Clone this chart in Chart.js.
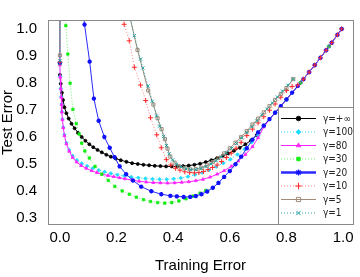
<!DOCTYPE html>
<html>
<head>
<meta charset="utf-8">
<script src="https://cdn.jsdelivr.net/npm/chart.js@4.4.1/dist/chart.umd.min.js"></script>
<style>
  html, body { margin: 0; padding: 0; background: #fff; }
  #wrap { width: 360px; height: 277px; }
</style>
</head>
<body>
<div id="wrap"><canvas id="chart"></canvas></div>
<script>
// Axis ticks
const xTicks = [0.0, 0.2, 0.4, 0.6, 0.8, 1.0];
const yTicks = [0.3, 0.4, 0.5, 0.6, 0.7, 0.8, 0.9, 1.0];

const seriesLabels = ['γ=+∞', 'γ=100', 'γ=80', 'γ=30', 'γ=20', 'γ=10', 'γ=5', 'γ=1'];

// γ=+∞
const infX = [0.000, 0.003, 0.007, 0.011, 0.016, 0.023, 0.031, 0.041, 0.052, 0.064, 0.077, 0.090, 0.104, 0.118, 0.133, 0.148, 0.164, 0.180, 0.197, 0.215, 0.235, 0.255, 0.275, 0.295, 0.315, 0.335, 0.355, 0.375, 0.395, 0.415, 0.435, 0.455, 0.475, 0.495, 0.515, 0.535, 0.555, 0.575, 0.595, 0.615, 0.635, 0.655, 0.675, 0.695, 0.720, 0.760, 0.800, 0.850, 0.900, 0.950, 0.995];
const infY = [0.828, 0.795, 0.762, 0.735, 0.708, 0.686, 0.666, 0.647, 0.630, 0.613, 0.598, 0.584, 0.571, 0.560, 0.550, 0.541, 0.532, 0.525, 0.518, 0.512, 0.506, 0.501, 0.498, 0.495, 0.493, 0.491, 0.490, 0.489, 0.489, 0.489, 0.490, 0.492, 0.495, 0.499, 0.505, 0.512, 0.520, 0.528, 0.537, 0.547, 0.558, 0.571, 0.585, 0.605, 0.640, 0.688, 0.737, 0.799, 0.864, 0.933, 0.998];

// γ=100
const g100X = [0.000, 0.001, 0.003, 0.005, 0.006, 0.007, 0.009, 0.012, 0.016, 0.023, 0.033, 0.045, 0.060, 0.077, 0.096, 0.116, 0.137, 0.158, 0.180, 0.203, 0.227, 0.252, 0.277, 0.302, 0.327, 0.352, 0.377, 0.402, 0.427, 0.452, 0.477, 0.502, 0.527, 0.552, 0.577, 0.602, 0.627, 0.652, 0.677, 0.700, 0.720, 0.760, 0.800, 0.850, 0.900, 0.950, 0.995];
const g100Y = [0.870, 0.822, 0.778, 0.747, 0.720, 0.692, 0.664, 0.634, 0.606, 0.576, 0.550, 0.528, 0.512, 0.500, 0.490, 0.482, 0.475, 0.469, 0.463, 0.458, 0.454, 0.450, 0.447, 0.444, 0.442, 0.441, 0.441, 0.443, 0.446, 0.451, 0.458, 0.466, 0.476, 0.488, 0.501, 0.515, 0.533, 0.553, 0.578, 0.603, 0.638, 0.688, 0.737, 0.799, 0.864, 0.933, 0.998];

// γ=80
const g80X = [0.000, 0.001, 0.003, 0.005, 0.006, 0.007, 0.009, 0.012, 0.016, 0.023, 0.033, 0.045, 0.059, 0.075, 0.093, 0.112, 0.131, 0.150, 0.170, 0.190, 0.210, 0.230, 0.255, 0.280, 0.305, 0.330, 0.355, 0.380, 0.405, 0.430, 0.455, 0.480, 0.505, 0.530, 0.555, 0.580, 0.605, 0.630, 0.655, 0.680, 0.700, 0.720, 0.760, 0.800, 0.850, 0.900, 0.950, 0.995];
const g80Y = [0.865, 0.820, 0.776, 0.745, 0.718, 0.690, 0.662, 0.632, 0.603, 0.572, 0.545, 0.522, 0.505, 0.492, 0.482, 0.473, 0.466, 0.460, 0.455, 0.451, 0.447, 0.443, 0.438, 0.434, 0.431, 0.429, 0.428, 0.427, 0.428, 0.430, 0.432, 0.436, 0.441, 0.449, 0.460, 0.473, 0.489, 0.509, 0.533, 0.562, 0.595, 0.635, 0.688, 0.737, 0.799, 0.864, 0.933, 0.998];

// γ=30 (the curve runs off the top of the plot before coming back in)
const g30X = [0.000, 0.000, 0.010, 0.021, 0.028, 0.036, 0.046, 0.058, 0.068, 0.077, 0.088, 0.104, 0.124, 0.148, 0.171, 0.194, 0.220, 0.245, 0.270, 0.295, 0.320, 0.345, 0.370, 0.395, 0.420, 0.445, 0.470, 0.495, 0.515, 0.540, 0.560, 0.580, 0.600, 0.620, 0.640, 0.660, 0.680, 0.700, 0.760, 0.800, 0.850, 0.900, 0.950, 0.995];
const g30Y = [0.870, 3.000, 1.300, 1.010, 0.905, 0.797, 0.700, 0.647, 0.609, 0.575, 0.546, 0.520, 0.489, 0.460, 0.437, 0.415, 0.398, 0.386, 0.375, 0.366, 0.359, 0.355, 0.353, 0.355, 0.361, 0.369, 0.379, 0.390, 0.400, 0.410, 0.428, 0.450, 0.473, 0.497, 0.525, 0.556, 0.588, 0.615, 0.688, 0.737, 0.799, 0.864, 0.933, 0.998];

// γ=20
const g20X = [0.000, 0.000, 0.060, 0.087, 0.105, 0.120, 0.137, 0.157, 0.176, 0.193, 0.211, 0.234, 0.258, 0.287, 0.323, 0.358, 0.390, 0.413, 0.437, 0.460, 0.480, 0.500, 0.520, 0.540, 0.560, 0.580, 0.600, 0.620, 0.640, 0.660, 0.680, 0.700, 0.720, 0.740, 0.760, 0.780, 0.800, 0.820, 0.840, 0.860, 0.880, 0.900, 0.920, 0.940, 0.960, 0.980, 0.995];
const g20Y = [0.873, 3.000, 1.300, 1.014, 0.877, 0.740, 0.658, 0.598, 0.558, 0.523, 0.489, 0.460, 0.437, 0.414, 0.397, 0.386, 0.380, 0.378, 0.376, 0.376, 0.379, 0.386, 0.396, 0.410, 0.428, 0.450, 0.472, 0.497, 0.525, 0.556, 0.588, 0.615, 0.640, 0.664, 0.688, 0.712, 0.737, 0.762, 0.787, 0.812, 0.838, 0.864, 0.891, 0.919, 0.947, 0.976, 0.998];

// γ=10
const g10X = [0.000, 0.000, 0.190, 0.227, 0.245, 0.263, 0.285, 0.303, 0.320, 0.342, 0.358, 0.376, 0.392, 0.408, 0.424, 0.441, 0.458, 0.475, 0.491, 0.507, 0.523, 0.539, 0.555, 0.571, 0.588, 0.605, 0.622, 0.640, 0.660, 0.680, 0.700, 0.720, 0.740, 0.760, 0.780, 0.800, 0.820, 0.840, 0.860, 0.880, 0.900, 0.920, 0.940, 0.960, 0.980, 0.995];
const g10Y = [0.875, 3.000, 1.200, 1.015, 0.954, 0.856, 0.790, 0.733, 0.669, 0.606, 0.558, 0.514, 0.494, 0.482, 0.475, 0.469, 0.466, 0.465, 0.466, 0.470, 0.477, 0.485, 0.494, 0.507, 0.522, 0.538, 0.556, 0.578, 0.603, 0.627, 0.650, 0.673, 0.697, 0.720, 0.745, 0.770, 0.785, 0.790, 0.812, 0.838, 0.864, 0.891, 0.919, 0.947, 0.976, 0.998];

// γ=5
const g5X = [0.000, 0.000, 0.190, 0.274, 0.312, 0.330, 0.345, 0.359, 0.371, 0.380, 0.390, 0.405, 0.420, 0.440, 0.460, 0.480, 0.500, 0.520, 0.540, 0.560, 0.580, 0.600, 0.620, 0.640, 0.660, 0.680, 0.700, 0.720, 0.740, 0.760, 0.780, 0.800, 0.824];
const g5Y = [0.900, 3.000, 1.300, 0.920, 0.770, 0.718, 0.667, 0.627, 0.590, 0.555, 0.525, 0.503, 0.490, 0.482, 0.478, 0.479, 0.484, 0.493, 0.505, 0.520, 0.537, 0.556, 0.577, 0.598, 0.620, 0.644, 0.666, 0.689, 0.712, 0.735, 0.757, 0.779, 0.812];

// γ=1
const g1X = [0.000, 0.000, 0.190, 0.263, 0.285, 0.293, 0.311, 0.326, 0.341, 0.352, 0.366, 0.376, 0.386, 0.398, 0.412, 0.428, 0.445, 0.462, 0.480, 0.498, 0.516, 0.534, 0.552, 0.570, 0.588, 0.606, 0.624, 0.642, 0.660, 0.678, 0.696, 0.714, 0.732, 0.750, 0.768, 0.786, 0.805, 0.824];
const g1Y = [0.880, 3.000, 1.300, 0.973, 0.886, 0.854, 0.787, 0.730, 0.676, 0.638, 0.600, 0.566, 0.536, 0.513, 0.497, 0.487, 0.480, 0.477, 0.477, 0.481, 0.488, 0.498, 0.510, 0.524, 0.540, 0.556, 0.574, 0.594, 0.614, 0.636, 0.658, 0.680, 0.702, 0.724, 0.746, 0.768, 0.790, 0.812];

const seriesX = [infX, g100X, g80X, g30X, g20X, g10X, g5X, g1X];
const seriesY = [infY, g100Y, g80Y, g30Y, g20Y, g10Y, g5Y, g1Y];

// Look of each series (line + marker), same order as the labels
const styles = [
  { line: '#000000', dash: [], width: 1, mark: '#000000', fill: '#000000', shape: 'circle', r: 1.5, bw: 0.8 },
  { line: '#33e0ff', dash: [1, 2], width: 1, mark: '#22dcff', fill: '#22dcff', shape: 'rectRot', r: 1.8, bw: 0.8 },
  { line: '#ff22ff', dash: [], width: 1, mark: '#ff22ff', fill: '#ff22ff', shape: 'triangle', r: 1.8, bw: 0.8 },
  { line: '#66ee66', dash: [1, 2], width: 1, mark: '#11ee11', fill: '#11ee11', shape: 'rect', r: 1.7, bw: 0.8 },
  { line: '#2a2aff', dash: [], width: 1, mark: '#1010ff', fill: '#1010ff', shape: 'star', r: 2.2, bw: 1.3 },
  { line: '#ff7a7a', dash: [1, 2], width: 1, mark: '#ff2a2a', fill: '#ff2a2a', shape: 'cross', r: 2.5, bw: 1 },
  { line: '#a08a78', dash: [], width: 1, mark: '#a08a78', fill: 'rgba(0,0,0,0)', shape: 'rect', r: 2.2, bw: 1 },
  { line: '#33a8a8', dash: [1, 2], width: 1, mark: '#22a0a0', fill: '#22a0a0', shape: 'crossRot', r: 2.2, bw: 1 }
];

const FONT = "'Liberation Sans', Arial, sans-serif";

const datasets = seriesLabels.map((label, i) => {
  const s = styles[i];
  return {
    label: label,
    data: seriesX[i].map((x, k) => ({ x: x, y: seriesY[i][k] })),
    showLine: true,
    tension: 0,
    clip: 0,
    order: seriesLabels.length - i,
    borderColor: s.line,
    borderWidth: s.width,
    borderDash: s.dash,
    pointStyle: s.shape,
    pointRadius: s.r,
    pointBorderWidth: s.bw,
    pointBorderColor: s.mark,
    pointBackgroundColor: s.fill
  };
});

// Plot frame and the boxed legend in the lower right corner
const framePlugin = {
  id: 'frameAndLegend',
  afterDraw(chart) {
    const ctx = chart.ctx;
    const { left, top, right, bottom } = chart.chartArea;
    ctx.save();
    ctx.strokeStyle = '#8a8a8a';
    ctx.lineWidth = 1;
    ctx.setLineDash([]);
    ctx.strokeRect(left + 0.5, top + 0.5, right - left, bottom - top - 1);

    const lx = right - 75;
    const ly = bottom - 118;
    ctx.fillStyle = '#ffffff';
    ctx.fillRect(lx, ly, right - lx, bottom - ly);
    ctx.strokeRect(lx + 0.5, ly + 0.5, right - lx, bottom - ly - 1);

    seriesLabels.forEach((label, i) => {
      const s = styles[i];
      const y = ly + 11.5 + i * 13.5;
      ctx.beginPath();
      ctx.strokeStyle = s.line;
      ctx.lineWidth = i === 4 ? 2.5 : s.width;
      ctx.setLineDash(s.dash);
      ctx.moveTo(lx + 3, y);
      ctx.lineTo(lx + 38, y);
      ctx.stroke();
      ctx.setLineDash([]);
      ctx.strokeStyle = s.mark;
      ctx.fillStyle = s.fill;
      ctx.lineWidth = s.bw;
      Chart.helpers.drawPoint(ctx, { pointStyle: s.shape, radius: s.r + 0.8, rotation: 0, borderWidth: s.bw }, lx + 20.5, y);
      ctx.fillStyle = '#222';
      ctx.font = "10px 'Liberation Sans Narrow', 'DejaVu Sans Condensed', " + FONT;
      ctx.textAlign = 'left';
      ctx.textBaseline = 'middle';
      ctx.fillText(label, lx + 45, y + 0.5);
    });
    ctx.restore();
  }
};

new Chart(document.getElementById('chart'), {
  type: 'scatter',
  data: { datasets: datasets },
  options: {
    responsive: true,
    maintainAspectRatio: false,
    animation: false,
    layout: { padding: { top: 6, right: 7, left: 0, bottom: 0 } },
    plugins: { legend: { display: false }, tooltip: { enabled: false } },
    scales: {
      x: {
        type: 'linear',
        min: -0.042,
        max: 1.035,
        afterFit: (scale) => { scale.height = 52; },
        afterBuildTicks: (scale) => { scale.ticks = xTicks.map(v => ({ value: v })); },
        grid: { display: false, drawTicks: false },
        border: { display: false },
        ticks: {
          padding: 4,
          color: '#000',
          maxRotation: 0,
          autoSkip: false,
          font: { family: FONT, size: 15 },
          callback: (v) => Number(v).toFixed(1)
        },
        title: {
          display: true,
          text: 'Training Error',
          color: '#000',
          font: { family: FONT, size: 15 },
          padding: { top: 0, bottom: 2 }
        }
      },
      y: {
        type: 'linear',
        min: 0.272,
        max: 1.031,
        afterFit: (scale) => { scale.width = 48; },
        afterBuildTicks: (scale) => { scale.ticks = yTicks.map(v => ({ value: v })); },
        grid: { display: false, drawTicks: false },
        border: { display: false },
        ticks: {
          padding: 11,
          color: '#000',
          autoSkip: false,
          font: { family: FONT, size: 15 },
          callback: (v) => Number(v).toFixed(1)
        },
        title: {
          display: true,
          text: 'Test Error',
          color: '#000',
          font: { family: FONT, size: 15, lineHeight: 1 },
          padding: 0
        }
      }
    }
  },
  plugins: [framePlugin]
});
</script>
</body>
</html>
